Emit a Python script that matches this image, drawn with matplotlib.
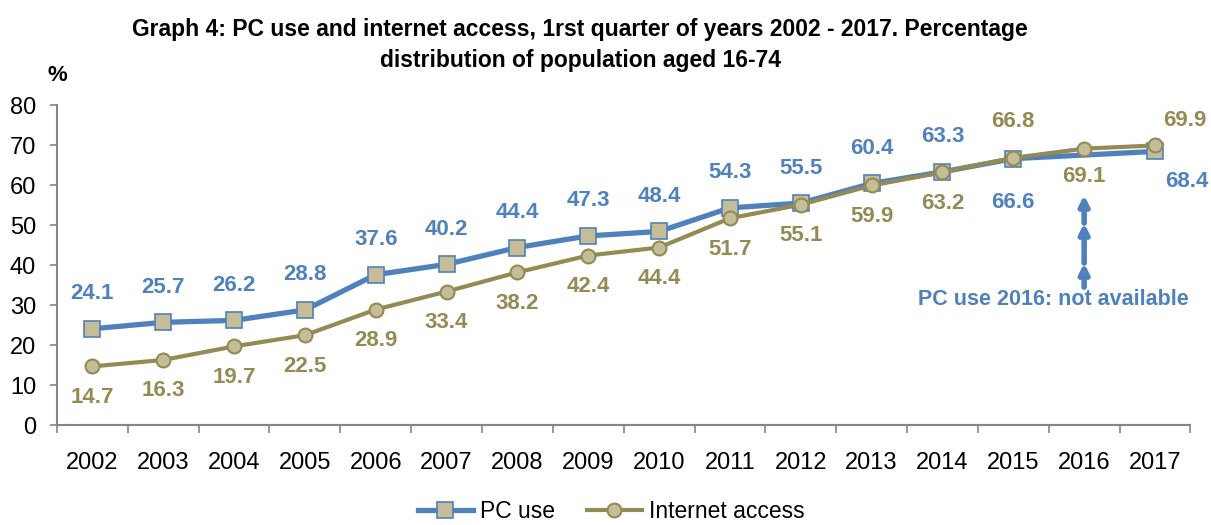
import numpy as np
import matplotlib.pyplot as plt

plt.rcParams['font.family'] = ['Liberation Sans', 'DejaVu Sans']

years = ['2002', '2003', '2004', '2005', '2006', '2007', '2008', '2009',
         '2010', '2011', '2012', '2013', '2014', '2015', '2016', '2017']
pc_use = [24.1, 25.7, 26.2, 28.8, 37.6, 40.2, 44.4, 47.3,
          48.4, 54.3, 55.5, 60.4, 63.3, 66.6, None, 68.4]
internet = [14.7, 16.3, 19.7, 22.5, 28.9, 33.4, 38.2, 42.4,
            44.4, 51.7, 55.1, 59.9, 63.2, 66.8, 69.1, 69.9]

blue = '#4F81BD'
olive = '#948A54'
tan = '#C4BD97'

x = np.arange(len(years))
pc_x = [i for i, v in enumerate(pc_use) if v is not None]
pc_y = [v for v in pc_use if v is not None]

fig = plt.figure(figsize=(12.11, 5.25), dpi=100)
ax = fig.add_axes([0.047, 0.19, 0.936, 0.61])

ax.plot(pc_x, pc_y, color=blue, lw=3.8, marker='s', markersize=12,
        markerfacecolor=tan, markeredgecolor=blue, markeredgewidth=1.2,
        label='PC use', zorder=3)
ax.plot(x, internet, color=olive, lw=3.0, marker='o', markersize=10,
        markerfacecolor=tan, markeredgecolor=olive, markeredgewidth=1.5,
        label='Internet access', zorder=4)

# label offsets (pixels): default above for PC use, below for internet
pc_off = {13: (0, -44), 15: (32, -30)}
net_off = {13: (0, 36), 14: (0, -28), 15: (30, 25)}
for i, v in enumerate(pc_use):
    if v is None:
        continue
    dx, dy = pc_off.get(i, (0, 35))
    ax.annotate(f'{v:.1f}', (i, v), xytext=(dx, dy), textcoords='offset pixels',
                ha='center', va='center', color=blue, fontsize=16,
                fontweight='bold')
for i, v in enumerate(internet):
    dx, dy = net_off.get(i, (0, -31))
    ax.annotate(f'{v:.1f}', (i, v), xytext=(dx, dy), textcoords='offset pixels',
                ha='center', va='center', color=olive, fontsize=16,
                fontweight='bold')

# stacked arrows for the missing 2016 value
for y0, y1 in [(34.5, 40.5), (40.5, 50.5), (50.5, 57.5)]:
    ax.annotate('', xy=(14, y1), xytext=(14, y0),
                arrowprops=dict(arrowstyle='-|>', color=blue, lw=4,
                                mutation_scale=14, shrinkA=0, shrinkB=0))
ax.text(13.56, 31.3, 'PC use 2016: not available', color=blue,
        fontsize=15.5, fontweight='bold', ha='center', va='center')

ax.set_xlim(-0.5, len(years) - 0.5)
ax.set_ylim(0, 80)
ax.set_yticks(range(0, 81, 10))
ax.set_xticks(x)
ax.set_xticklabels(years)
ax.set_xticks(np.arange(-0.5, len(years), 1), minor=True)
ax.tick_params(axis='x', which='major', length=0, pad=19, labelsize=17)
ax.tick_params(axis='x', which='minor', length=6, color='#868686', width=1.2)
ax.tick_params(axis='y', length=5, color='#868686', width=1.2, labelsize=17,
               pad=10)
for s in ['top', 'right']:
    ax.spines[s].set_visible(False)
for s in ['left', 'bottom']:
    ax.spines[s].set_color('#868686')
    ax.spines[s].set_linewidth(1.5)

fig.text(0.047, 0.857, '%', fontsize=16, fontweight='bold', ha='center',
         va='center')
fig.text(0.479, 0.965,
         'Graph 4: PC use and internet access, 1rst quarter of years 2002 - 2017. Percentage\n'
         'distribution of population aged 16-74',
         fontsize=16.5, fontweight='bold', ha='center', va='top',
         linespacing=1.45)

ax.legend(loc='upper center', bbox_to_anchor=(0.489, -0.17), ncol=2,
          frameon=False, fontsize=16.5, handlelength=2.4, columnspacing=1.4,
          handletextpad=0.3)

fig.savefig('out.png', dpi=100)
